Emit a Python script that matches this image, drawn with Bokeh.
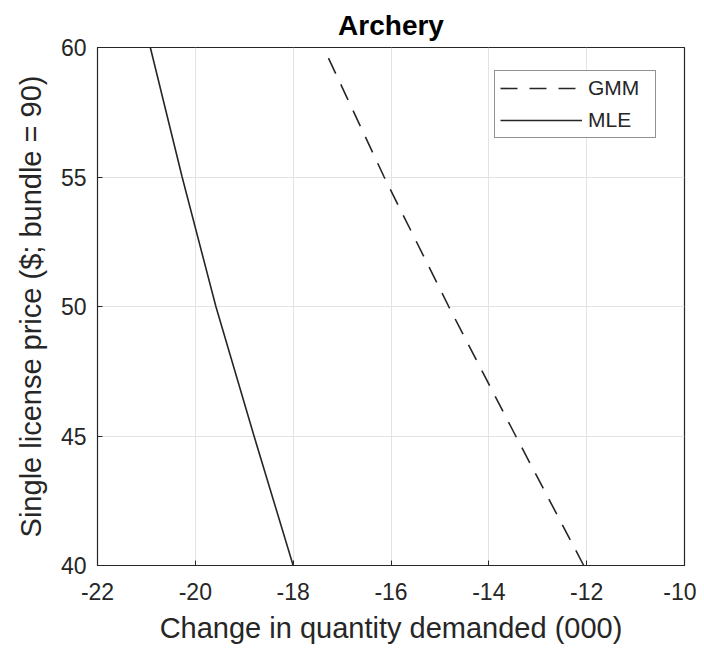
from bokeh.plotting import figure
from bokeh.models import Range1d, Legend, LegendItem, FixedTicker, PrintfTickFormatter
from bokeh.embed import file_html
from bokeh.resources import INLINE

# ---- data ----
price = [40, 45, 50, 55, 60]
gmm = [-12.06, -13.45, -14.82, -16.14, -17.38]
mle = [-18.00, -18.80, -19.58, -20.27, -20.92]
x_ticks = [-22, -20, -18, -16, -14, -12, -10]
y_ticks = [40, 45, 50, 55, 60]

FONT = "Liberation Sans"
TXT = "#262626"

p = figure(width=696, height=648, output_backend="svg", toolbar_location=None,
           x_range=Range1d(-22, -10), y_range=Range1d(40, 60),
           min_border_left=97, min_border_right=12, min_border_top=47, min_border_bottom=83)

p.title.text = "Archery"
p.title.align = "center"
p.title.text_font = FONT
p.title.text_font_size = "28px"
p.title.text_font_style = "bold"
p.title.text_color = "#000000"
p.title.standoff = 13

for ax in (p.xaxis[0], p.yaxis[0]):
    ax.major_label_text_font = FONT
    ax.major_label_text_font_size = "23px"
    ax.major_label_text_color = TXT
    ax.axis_label_text_font = FONT
    ax.axis_label_text_font_size = "29px"
    ax.axis_label_text_font_style = "normal"
    ax.axis_label_text_color = TXT
    ax.axis_line_color = TXT
    ax.major_tick_line_color = TXT
    ax.major_tick_in = 5
    ax.major_tick_out = 0
    ax.minor_tick_line_color = None
    ax.formatter = PrintfTickFormatter(format="%d")

p.xaxis[0].major_label_standoff = 17
p.xaxis[0].axis_label_standoff = 9
p.yaxis[0].major_label_standoff = 11
p.yaxis[0].axis_label_standoff = 11

p.xaxis[0].ticker = FixedTicker(ticks=x_ticks)
p.yaxis[0].ticker = FixedTicker(ticks=y_ticks)
p.xaxis[0].axis_label = "Change in quantity demanded (000)"
p.yaxis[0].axis_label = "Single license price ($; bundle = 90)"

p.xgrid.ticker = FixedTicker(ticks=x_ticks)
p.ygrid.ticker = FixedTicker(ticks=y_ticks)
p.grid.grid_line_color = "#e3e3e3"
p.grid.grid_line_width = 1

p.outline_line_color = TXT
p.outline_line_width = 1.2
p.background_fill_color = "white"
p.border_fill_color = "white"

r_gmm = p.line(gmm, price, line_color="#262626", line_width=1.6, line_dash="17 12")
r_mle = p.line(mle, price, line_color="#262626", line_width=1.6)

legend = Legend(items=[LegendItem(label="GMM", renderers=[r_gmm]),
                       LegendItem(label="MLE", renderers=[r_mle])],
                location=(397, 427))
legend.label_text_font = FONT
legend.label_text_font_size = "21px"
legend.label_text_color = TXT
legend.border_line_color = TXT
legend.border_line_width = 1
legend.glyph_width = 82
legend.glyph_height = 22
legend.label_height = 22
legend.label_width = 62
legend.label_standoff = 6
legend.padding = 5
legend.spacing = 8
legend.margin = 0
legend.background_fill_color = "white"
p.add_layout(legend, "center")

open("out.html", "w").write(file_html(p, INLINE))
